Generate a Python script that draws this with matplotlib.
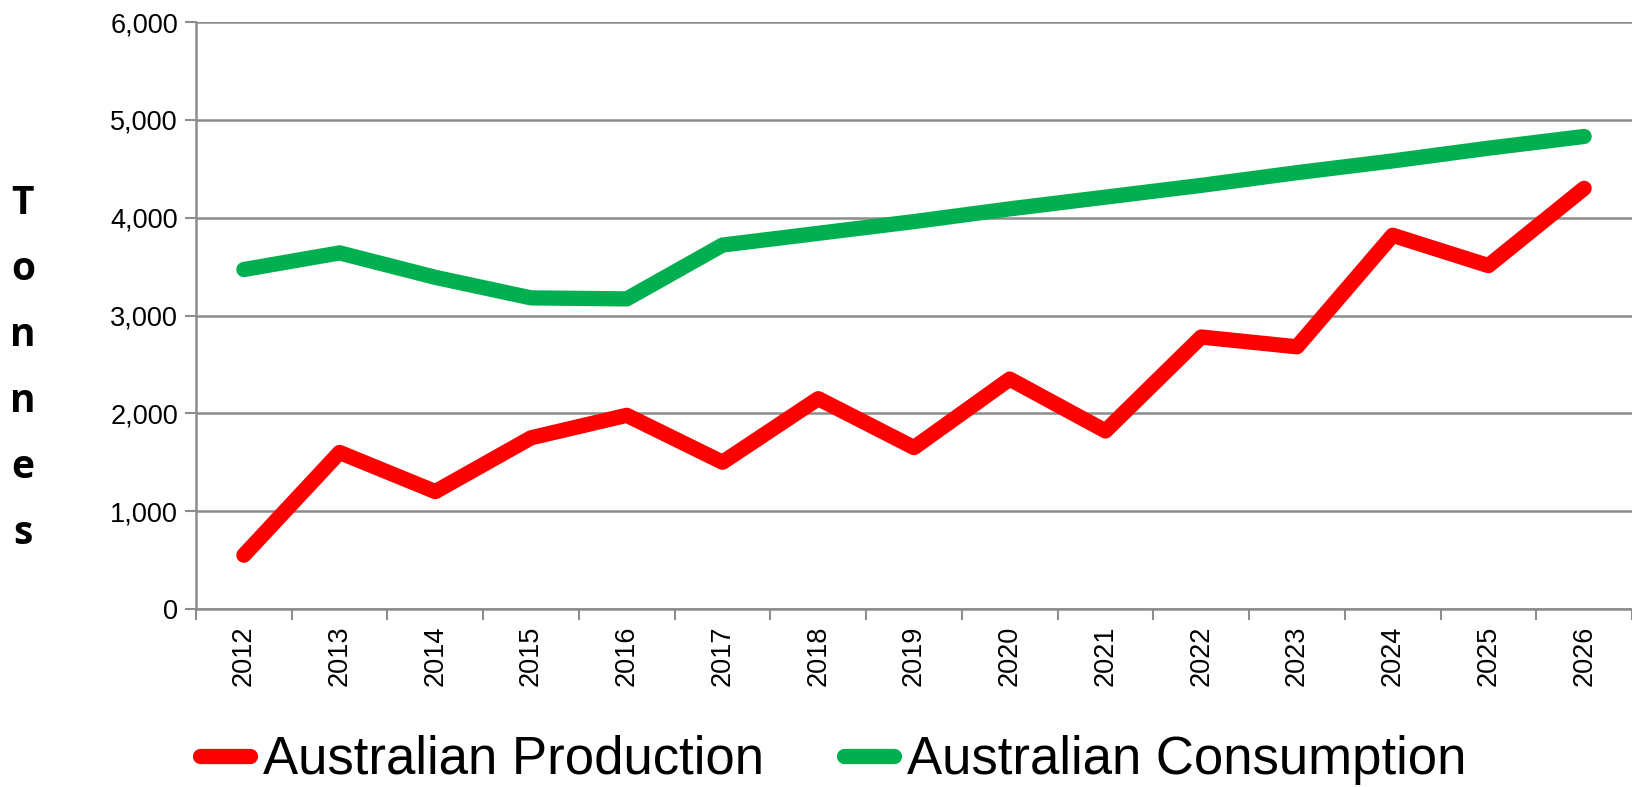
import numpy as np
import matplotlib.pyplot as plt
from matplotlib.ticker import FuncFormatter, FixedLocator

years = [str(y) for y in range(2012, 2027)]
production = [550, 1600, 1200, 1750, 1980, 1500, 2150, 1650, 2350, 1820, 2780, 2680, 3820, 3510, 4300]
consumption = [3470, 3640, 3390, 3180, 3170, 3720, 3840, 3960, 4090, 4210, 4330, 4460, 4580, 4710, 4830]

plt.rcParams["font.family"] = ["Liberation Sans", "DejaVu Sans"]

W, H = 1633, 787
fig = plt.figure(figsize=(W / 100, H / 100), dpi=100, facecolor="white")
ax = fig.add_axes([196 / W, 1 - 609 / H, (1632 - 196) / W, (609 - 22) / H])

x = np.arange(len(years))
ax.plot(x, production, color="#FF0000", lw=11, solid_capstyle="round",
        solid_joinstyle="round", label="Australian Production", zorder=3)
ax.plot(x, consumption, color="#00B050", lw=11, solid_capstyle="round",
        solid_joinstyle="round", label="Australian Consumption", zorder=3)

ax.set_xlim(-0.5, len(years) - 0.5)
ax.set_ylim(0, 6000)
ax.set_yticks(range(0, 6001, 1000))
ax.yaxis.set_major_formatter(FuncFormatter(lambda v, p: f"{int(v):,}"))
ax.set_xticks(x)
ax.set_xticklabels(years, rotation=90)
ax.xaxis.set_minor_locator(FixedLocator(np.arange(-0.5, len(years), 1.0)))

ax.tick_params(axis="x", which="major", length=0, pad=12, labelsize=19.5)
ax.tick_params(axis="x", which="minor", length=8, width=1.5, color="#8C8C8C")
ax.tick_params(axis="y", length=8, width=1.5, color="#8C8C8C", labelsize=19.5, pad=5)

ax.grid(axis="y", color="#8C8C8C", lw=1.8, zorder=0)
for s in ["top", "right"]:
    ax.spines[s].set_visible(False)
for s in ["left", "bottom"]:
    ax.spines[s].set_color("#8C8C8C")
    ax.spines[s].set_linewidth(1.8)

fig.text(23 / W, 1 - 368 / H, "\n".join("Tonnes"), ha="center", va="center",
         fontsize=28, fontweight="bold", family=["Open Sans", "DejaVu Sans"],
         linespacing=1.9)

fig.legend(loc="center left", bbox_to_anchor=(200 / W, 1 - 760 / H), ncol=2,
           frameon=False, fontsize=38, handlelength=0.95, handletextpad=0.25,
           columnspacing=1.5, borderpad=0, borderaxespad=0)

fig.savefig("out.png", dpi=100, facecolor="white")
